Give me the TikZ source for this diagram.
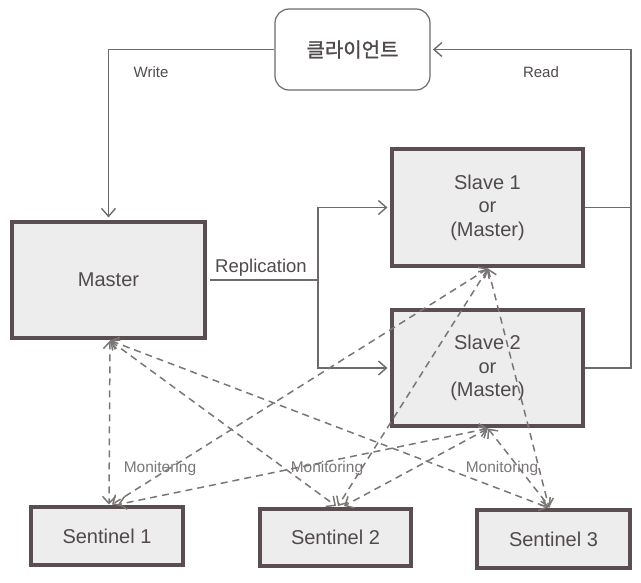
\documentclass[tikz,border=0pt]{standalone}
\usepackage{fontspec}
\setmainfont{Liberation Sans}
\newfontfamily\krfont[FakeBold=1.3]{Noto Sans CJK KR}
\usetikzlibrary{arrows.meta}
\definecolor{boxline}{HTML}{5A4E50}
\definecolor{boxfill}{HTML}{EDEDED}
\definecolor{wire}{HTML}{6E6A6A}
\definecolor{dash}{HTML}{7A7676}
\definecolor{txt}{HTML}{504A4A}
\begin{document}
\begin{tikzpicture}[x=1pt,y=-1pt,
  serverbox/.style={draw=boxline, line width=4.5pt, fill=boxfill, inner sep=0pt,
    text=txt, font=\fontsize{20}{23.5}\selectfont, align=center},
  clientbox/.style={draw=wire, line width=1.2pt, fill=white, rounded corners=14pt,
    minimum width=155, minimum height=81, inner sep=0pt, text=txt},
  wireline/.style={draw=wire, line width=1.4pt},
  tip/.style={-{Straight Barb[length=8pt,width=14pt]}},
  monline/.style={draw=dash, line width=1.5pt, dash pattern=on 7pt off 5pt,
    {Straight Barb[length=7pt,width=13pt]}-{Straight Barb[length=7pt,width=13pt]}},
  small/.style={text=txt, font=\fontsize{15}{18}\selectfont},
  mon/.style={text=dash, font=\fontsize{15.5}{18}\selectfont}]
\useasboundingbox (0,0) rectangle (641,583);

% nodes
\node[clientbox] (client) at (352.5,49.5) {\krfont\fontsize{20}{24}\selectfont 클라이언트};
\node[serverbox, minimum width=193, minimum height=116] (master) at (108.5,280) {Master};
\node[serverbox, minimum width=191, minimum height=117] (slave1) at (487.5,207.5) {\raisebox{-3pt}{\parbox{150pt}{\centering Slave 1\\or\\(Master)}}};
\node[serverbox, minimum width=191, minimum height=116] (slave2) at (487.5,368) {\raisebox{-3pt}{\parbox{150pt}{\centering Slave 2\\or\\(Master)}}};
\node[serverbox, minimum width=152, minimum height=58] (sen1) at (107,536) {Sentinel 1};
\node[serverbox, minimum width=151, minimum height=57] (sen2) at (335.5,537.5) {Sentinel 2};
\node[serverbox, minimum width=153, minimum height=58] (sen3) at (553.5,539) {Sentinel 3};

% write / read
\draw[wireline, tip] (client.west) -| ([yshift=2.3pt]master.north);
\node[small] (wlbl) at (151,72) {Write};
\coordinate (rtop) at (631,49.5);
\draw[wireline, tip] (slave2.east) -| (rtop) -- ([xshift=2.3pt]client.east);
\draw[wireline] (slave1.east) -- (slave1.east -| rtop);
\node[small] (rlbl) at (541,72) {Read};

% replication
\coordinate (repx) at (318,282);
\draw[wireline] ([xshift=2.3pt]master.east) -- (master.east -| repx);
\draw[wireline, tip] (master.east -| repx) |- ([xshift=-2.3pt]slave1.west);
\draw[wireline, tip] (master.east -| repx) |- ([xshift=-2.3pt]slave2.west);
\node[text=txt, font=\fontsize{18.5}{22}\selectfont] (replbl) at (261,268) {Replication};

% monitoring endpoints
\coordinate (mB) at (110,340.5);
\coordinate (s1B) at (488,268.5);
\coordinate (s2B) at (488,428.5);
\coordinate (a1) at (109,504.5);
\coordinate (b1) at (112,504.5);
\coordinate (c1) at (118,504.5);
\coordinate (a2) at (336,506);
\coordinate (b2) at (338,506);
\coordinate (c2) at (344,506);
\coordinate (a3) at (548,507.5);
\coordinate (b3) at (549,507.5);
\coordinate (c3) at (550,507.5);

\draw[monline] (mB) -- (a1);
\draw[monline] (mB) -- (a2);
\draw[monline] (mB) -- (a3);
\draw[monline] (s1B) -- (b1);
\draw[monline] (s1B) -- (b2);
\draw[monline] (s1B) -- (b3);
\draw[monline] (s2B) -- (c1);
\draw[monline] (s2B) -- (c2);
\draw[monline] (s2B) -- (c3);

\node[mon] (m1) at (160,468) {Monitering};
\node[mon] (m2) at (327,468) {Monitoring};
\node[mon] (m3) at (502,468) {Monitoring};
\end{tikzpicture}
\end{document}
